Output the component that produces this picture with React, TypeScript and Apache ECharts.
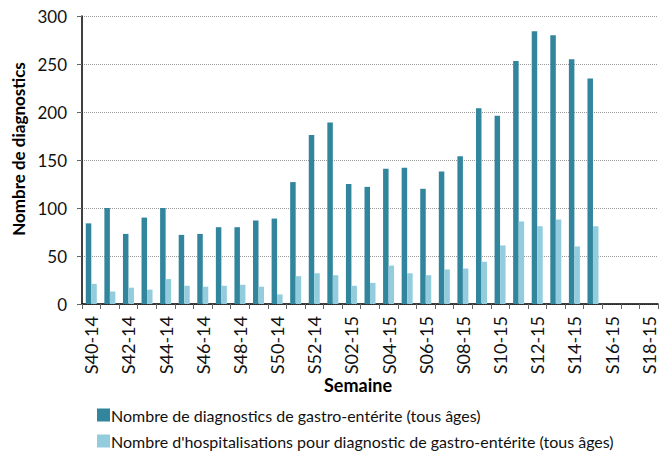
import React, { useEffect, useRef } from "react";
import * as echarts from "echarts";

const weeks: string[] = [
  "S40-14","S41-14","S42-14","S43-14","S44-14","S45-14","S46-14","S47-14","S48-14","S49-14","S50-14","S51-14","S52-14",
  "S01-15","S02-15","S03-15","S04-15","S05-15","S06-15","S07-15","S08-15","S09-15","S10-15","S11-15","S12-15","S13-15","S14-15","S15-15","S16-15","S17-15","S18-15",
];
const diagnostics: (number | null)[] = [
  84, 100, 73, 90, 100, 72, 73, 80, 80, 87, 89, 127, 176,
  189, 125, 122, 141, 142, 120, 138, 154, 204, 196, 253, 284, 280, 255, 235, null, null, null,
];
const hospitalisations: (number | null)[] = [
  21, 13, 17, 15, 26, 19, 18, 19, 20, 18, 10, 29, 32,
  30, 19, 22, 40, 32, 30, 36, 37, 44, 61, 86, 81, 88, 60, 81, null, null, null,
];
const yTicks = { min: 0, max: 300, interval: 50 };
const seriesNames = [
  "Nombre de diagnostics de gastro-entérite (tous âges)",
  "Nombre d'hospitalisations pour diagnostic de gastro-entérite (tous âges)",
];
const yTitle = "Nombre de diagnostics";
const xTitle = "Semaine";

const FONT = "Lato, 'Open Sans', sans-serif";

export default function App() {
  const ref = useRef<HTMLDivElement>(null);
  useEffect(() => {
    if (!ref.current) return;
    const chart = echarts.init(ref.current, undefined, { renderer: "svg" });
    chart.setOption({
      animation: false,
      textStyle: { fontFamily: FONT },
      grid: { left: 82, right: 2, top: 16, bottom: 151, containLabel: false },
      legend: {
        orient: "vertical",
        left: 97,
        top: 407,
        height: 60,
        padding: 0,
        itemWidth: 13,
        itemHeight: 13,
        itemGap: 10,
        icon: "rect",
        textStyle: { fontFamily: FONT, fontSize: 16, color: "#111", padding: [0, 0, 0, -4] },
        data: seriesNames,
      },
      xAxis: {
        type: "category",
        data: weeks,
        axisLine: { lineStyle: { color: "#000", width: 1.5 } },
        axisTick: { show: true, interval: 0, length: 5, lineStyle: { color: "#666" } },
        axisLabel: {
          interval: 1,
          rotate: 90,
          fontSize: 18,
          color: "#111",
          fontFamily: FONT,
          margin: 12,
        },
      },
      yAxis: {
        type: "value",
        min: yTicks.min,
        max: yTicks.max,
        interval: yTicks.interval,
        axisLine: { show: true, lineStyle: { color: "#000", width: 1.5 } },
        axisTick: { show: true, length: 5, lineStyle: { color: "#666" } },
        axisLabel: { fontSize: 17, color: "#111", fontFamily: FONT, margin: 15 },
        splitLine: { show: true, lineStyle: { type: "dotted", color: "#999", width: 1 } },
      },
      graphic: [
        {
          type: "text",
          x: 18,
          y: 149,
          rotation: Math.PI / 2,
          style: {
            text: yTitle,
            fontFamily: FONT,
            fontWeight: "bold",
            fontSize: 17,
            fill: "#000",
            align: "center",
            verticalAlign: "middle",
          },
        },
        {
          type: "text",
          x: 358,
          y: 385,
          style: {
            text: xTitle,
            fontFamily: FONT,
            fontWeight: "bold",
            fontSize: 18,
            fill: "#000",
            align: "center",
            verticalAlign: "middle",
          },
        },
      ],
      series: [
        {
          name: seriesNames[0],
          type: "bar",
          data: diagnostics,
          barWidth: 5.5,
          barGap: "0%",
          itemStyle: { color: "#31859C" },
        },
        {
          name: seriesNames[1],
          type: "bar",
          data: hospitalisations,
          barWidth: 5.5,
          itemStyle: { color: "#93CDDD" },
        },
      ],
    });
    return () => chart.dispose();
  }, []);
  return (
    <div
      ref={ref}
      style={{ position: "fixed", left: 0, top: 0, width: 660, height: 455, background: "#fff" }}
    />
  );
}
